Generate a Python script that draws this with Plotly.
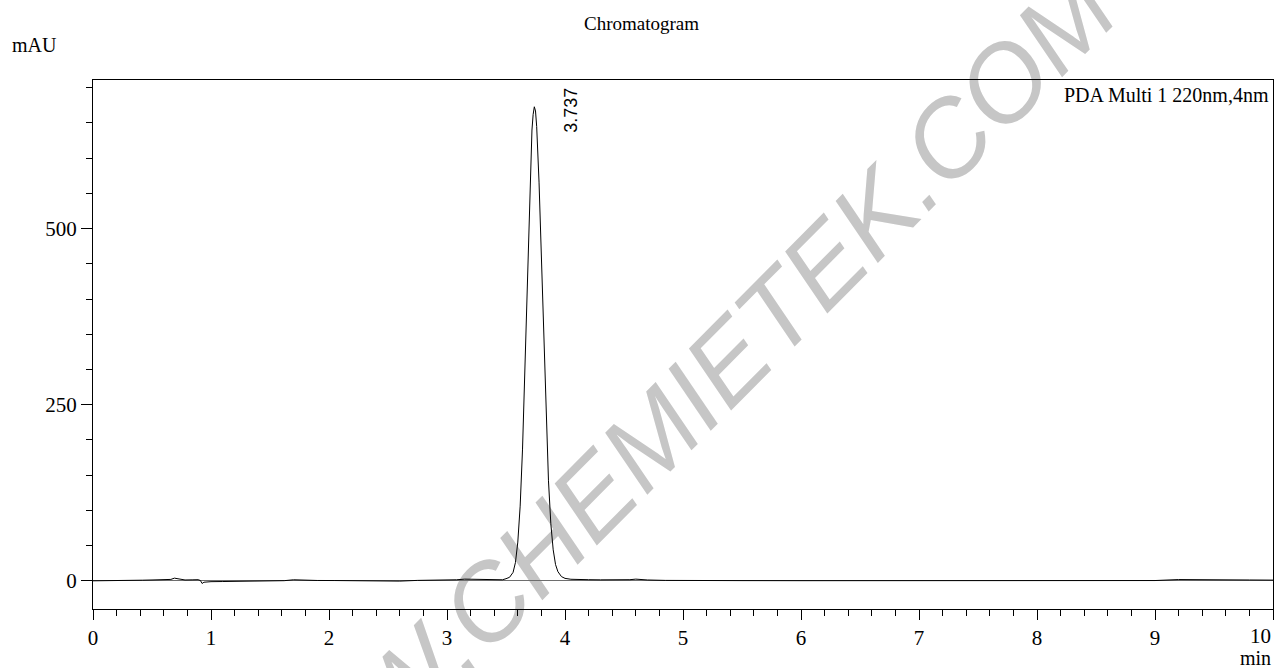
import plotly.graph_objects as go

# ---- data ----
time_min = [0.00, 0.10, 0.20, 0.30, 0.37, 0.42, 0.50, 0.60, 0.66, 0.69, 0.72, 0.78, 0.84, 0.89, 0.91, 0.925,
            0.94, 0.97, 1.00, 1.10, 1.20, 1.35, 1.50, 1.62, 1.70, 1.78, 1.90, 2.05, 2.20, 2.35, 2.50, 2.60,
            2.75, 2.90, 3.00, 3.08, 3.15, 3.22, 3.28, 3.35, 3.42, 3.47, 3.50, 3.53, 3.56, 3.58, 3.60, 3.62,
            3.64, 3.66, 3.68, 3.70, 3.72, 3.73, 3.74, 3.75, 3.76, 3.78, 3.80, 3.82, 3.84, 3.86, 3.88, 3.90,
            3.92, 3.94, 3.97, 4.00, 4.05, 4.10, 4.20, 4.30, 4.45, 4.55, 4.60, 4.70, 4.85, 5.00, 5.50, 6.00,
            6.50, 7.00, 7.50, 8.00, 8.50, 9.00, 9.20, 9.40, 9.60, 9.80, 10.00]
signal_mau = [0.0, 0.0, 0.0, 0.0, 0.2, 0.9, 1.2, 1.4, 2.0, 3.8, 2.6, 1.2, 1.4, 1.6, 0.5, -3.8,
              -2.0, -1.5, -1.2, -1.0, -0.8, -0.7, -0.5, 0.2, 1.5, 0.8, 0.5, 0.4, 0.2, 0.0, -0.6, -0.4,
              0.6, 1.0, 0.3, 1.5, 2.4, 2.2, 1.2, 0.8, 0.8, 1.5, 3.0, 5.0, 12.0, 26.0, 55.0, 106.0,
              187.0, 297.0, 425.0, 548.0, 640.0, 662.0, 673.0, 667.0, 645.0, 566.0, 456.0, 338.0, 229.0, 142.0, 81.0, 44.0,
              23.0, 13.0, 6.0, 3.5, 2.2, 1.8, 1.6, 1.4, 1.0, 1.6, 2.4, 1.2, 0.6, 0.4, 0.3, 0.2,
              0.1, 0.1, 0.1, 0.1, 0.2, 0.4, 1.8, 1.9, 1.6, 1.2, 1.0]

peak_rt = [4.055]
peak_label_y = [668]
peak_labels = ["3.737"]

x_ticks = [0, 1, 2, 3, 4, 5, 6, 7, 8, 9, 10]
y_ticks = [0, 250, 500]

title_text = "Chromatogram"
y_unit = "mAU"
x_unit = "min"
channel_text = "PDA Multi 1 220nm,4nm"
watermark_text = "WWW.CHEMIETEK.COM"

SERIF = "Liberation Serif, Times New Roman, serif"
SANS = "Liberation Sans, Arial, sans-serif"

fig = go.Figure()
fig.add_trace(go.Scatter(x=time_min, y=signal_mau, mode="lines",
                         line=dict(color="black", width=1), hoverinfo="skip",
                         showlegend=False))

fig.update_layout(
    width=1277, height=668, autosize=False,
    margin=dict(l=93, r=4, t=80, b=59, pad=0),
    paper_bgcolor="white", plot_bgcolor="white",
    font=dict(family=SERIF, size=21, color="black"),
    showlegend=False,
)

# last x tick label sits flush left of its tick (as in the instrument printout)
x_ticktext = [str(v) for v in x_ticks[:-1]] + [""]

fig.update_xaxes(
    range=[0, 10], tickvals=x_ticks, ticktext=x_ticktext,
    showline=True, linecolor="black", linewidth=1, mirror=True,
    ticks="outside", ticklen=10, tickwidth=1, tickcolor="black",
    showgrid=False, zeroline=False,
    tickfont=dict(family=SERIF, size=21, color="black"),
    minor=dict(dtick=0.2, ticks="outside", ticklen=6, tickwidth=1, tickcolor="black", showgrid=False),
)
fig.update_yaxes(
    range=[-40, 711], tickvals=y_ticks, ticktext=[str(v) for v in y_ticks],
    showline=True, linecolor="black", linewidth=1, mirror=True,
    ticks="outside", ticklen=11, tickwidth=1, tickcolor="black",
    showgrid=False, zeroline=True, zerolinecolor="#6e6e6e", zerolinewidth=1,
    tickfont=dict(family=SERIF, size=21, color="black"),
    minor=dict(dtick=50, tick0=0, ticks="outside", ticklen=6, tickwidth=1, tickcolor="black", showgrid=False),
)

fig.add_annotation(x=x_ticks[-1], y=-0.051, xref="x", yref="paper", text=str(x_ticks[-1]),
                   showarrow=False, xanchor="right", yanchor="middle",
                   font=dict(family=SERIF, size=21, color="black"))

# watermark: text label of an invisible line, drawn beneath the data
fig.add_shape(
    type="line", xref="paper", yref="paper",
    x0=0.3329, y0=-0.1259, x1=0.6917, y1=0.6794,
    line=dict(color="rgba(0,0,0,0)", width=0),
    layer="below",
    label=dict(text=watermark_text, textposition="middle", yanchor="bottom", padding=0,
               font=dict(family=SANS, size=107, color="#c6c6c6", style="italic")),
)

for xv, yv, txt in zip(peak_rt, peak_label_y, peak_labels):
    fig.add_annotation(x=xv, y=yv, xref="x", yref="y", text=txt, showarrow=False,
                       textangle=-90, xanchor="center", yanchor="middle",
                       font=dict(family=SANS, size=18, color="black"))

fig.add_annotation(x=0.4648, y=1.106, xref="paper", yref="paper", text=title_text,
                   showarrow=False, xanchor="center", yanchor="middle",
                   font=dict(family=SERIF, size=19, color="black"))
fig.add_annotation(x=-0.0703, y=1.066, xref="paper", yref="paper", text=y_unit,
                   showarrow=False, xanchor="left", yanchor="middle",
                   font=dict(family=SERIF, size=20, color="black"))
fig.add_annotation(x=1.0, y=-0.0926, xref="paper", yref="paper", text=x_unit,
                   showarrow=False, xanchor="right", yanchor="middle",
                   font=dict(family=SERIF, size=20, color="black"))
fig.add_annotation(x=0.9983, y=0.9716, xref="paper", yref="paper", text=channel_text,
                   showarrow=False, xanchor="right", yanchor="middle",
                   font=dict(family=SERIF, size=20, color="black"))

# remove the browser's default 8px page margin so the figure fills the window exactly
fig.write_html("out.html", config={"displayModeBar": False},
               post_script="document.body.style.margin='0';")
